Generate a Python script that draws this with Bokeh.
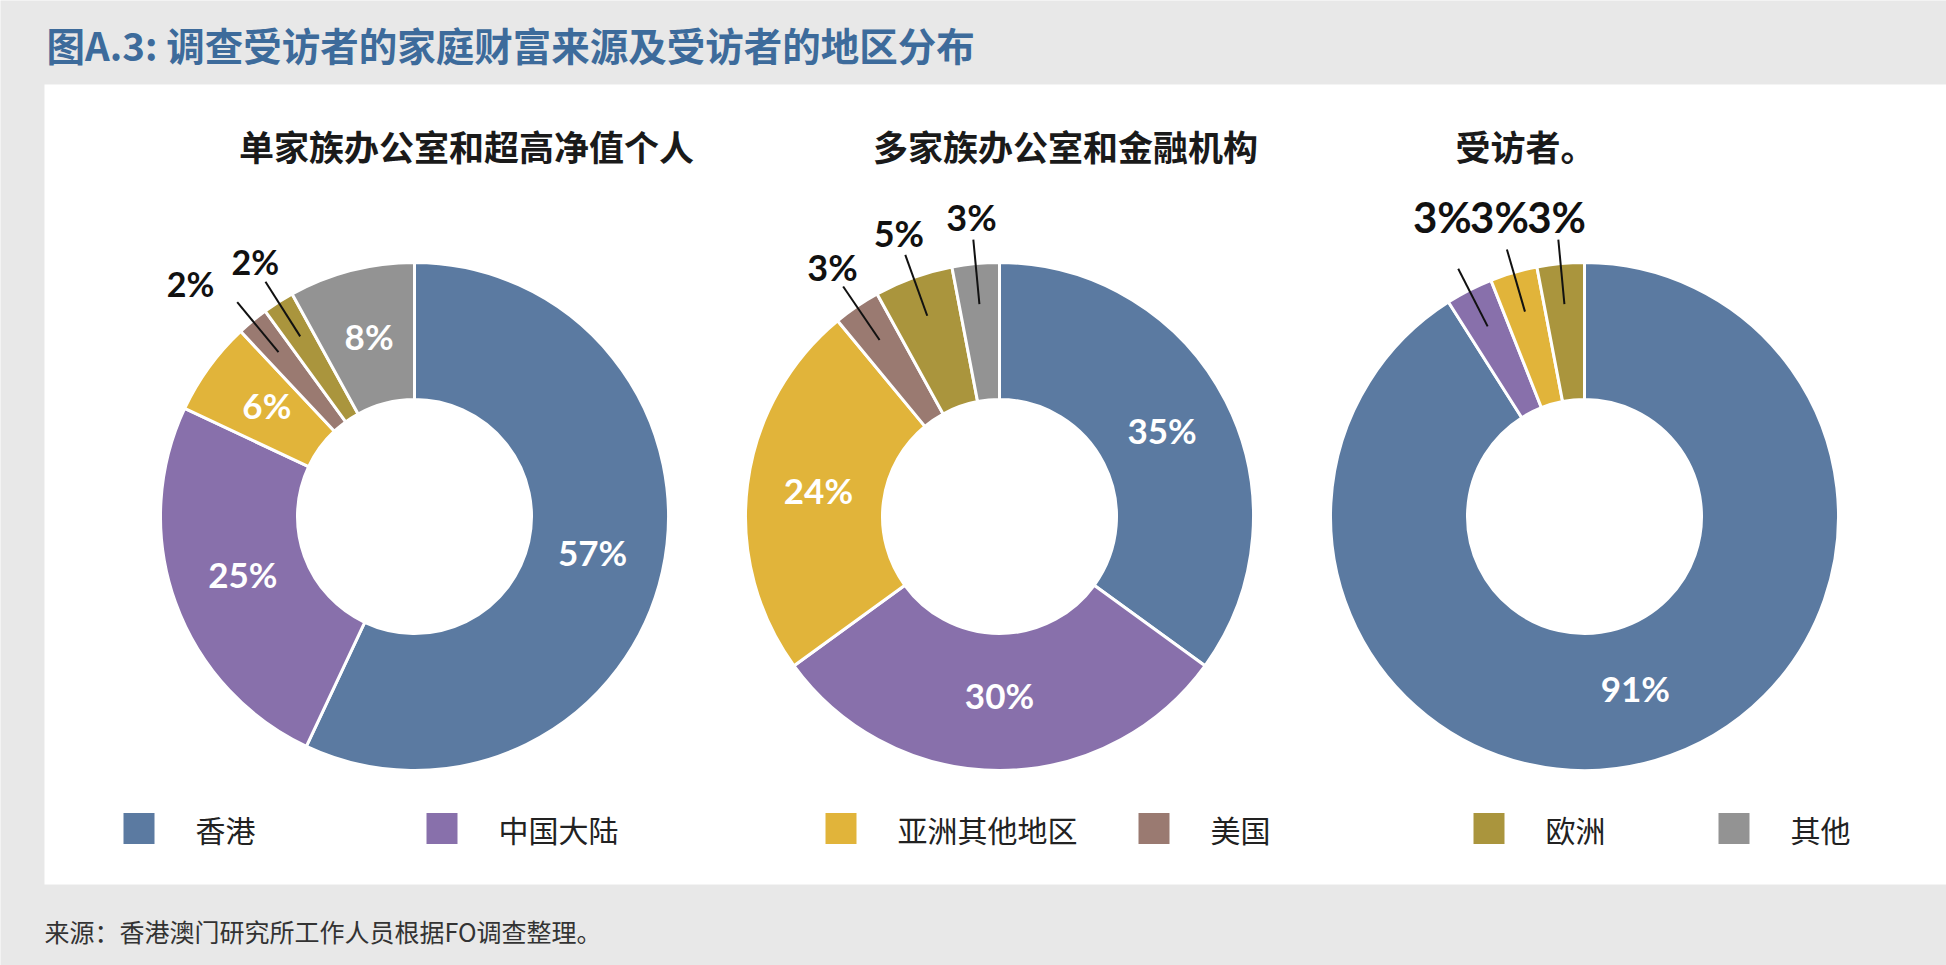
import math

from bokeh.plotting import figure
from bokeh.models import Range1d
from bokeh.core.properties import value
from bokeh.embed import file_html
from bokeh.resources import INLINE

# ---- data ---------------------------------------------------------------
categories = ["香港", "中国大陆", "亚洲其他地区", "美国", "欧洲", "其他"]
colors = ["#5b7aa1", "#8870ab", "#e1b43a", "#9a7a71", "#aa953d", "#939393"]

single_family_ultra_hnw = [57, 25, 6, 2, 2, 8]
multi_family_financial = [35, 30, 24, 3, 5, 3]
respondents_region = [91, 3, 3, 0, 3, 0]

panel_titles = ["单家族办公室和超高净值个人", "多家族办公室和金融机构", "受访者。"]
main_title = "图A.3: 调查受访者的家庭财富来源及受访者的地区分布"
source_note = "来源：香港澳门研究所工作人员根据FO调查整理。"

# ---- layout (pixels, measured from the top-left corner) -----------------
W, H = 1946, 965
CJK = "Noto Sans CJK SC"
NUM = "Lato"


def Y(top):
    return H - top


donuts = [
    dict(values=single_family_ultra_hnw, cx=414, cy=516, title_x=466, label_fs=34, row=False),
    dict(values=multi_family_financial, cx=999, cy=516, title_x=1065, label_fs=36, row=False),
    dict(values=respondents_region, cx=1584, cy=516, title_x=1525, label_fs=42, row=True),
]
R_OUT, R_IN = 254, 117
INSIDE_MIN = 6
TEXT_LIFT = 4  # optical centring of digits against "middle" baseline

legend_x = [123, 426, 825, 1138, 1473, 1718]
legend_y = 828
SQ = 31

p = figure(width=W, height=H, x_range=Range1d(0, W), y_range=Range1d(0, H),
           output_backend="svg", toolbar_location=None, min_border=0)
p.axis.visible = False
p.grid.visible = False
p.outline_line_color = None
p.background_fill_color = "#e8e8e8"
p.border_fill_color = "#e8e8e8"

# white panel behind the charts and legend
p.quad(left=44, right=W, top=Y(84), bottom=Y(884), fill_color="white", line_color=None)

# main title
p.text(x=[46], y=[Y(43)], text=[main_title], text_align="left", text_baseline="middle",
       text_font=value(CJK), text_font_style="bold", text_font_size="38.5px",
       text_color="#3d6b9b")

for i, d in enumerate(donuts):
    vals = d["values"]
    cx, cy = d["cx"], Y(d["cy"])
    total = float(sum(vals))

    # panel subtitle
    p.text(x=[d["title_x"]], y=[Y(145)], text=[panel_titles[i]],
           text_align="center", text_baseline="middle", text_font=value(CJK),
           text_font_style="bold", text_font_size="35px", text_color="#1a1a1a")

    starts, ends, cols, mids, shown = [], [], [], [], []
    cum = 0.0
    for v, c in zip(vals, colors):
        if v <= 0:
            continue
        a0 = math.pi / 2 - 2 * math.pi * cum / total
        a1 = math.pi / 2 - 2 * math.pi * (cum + v) / total
        starts.append(a0)
        ends.append(a1)
        cols.append(c)
        mids.append((a0 + a1) / 2)
        shown.append(v)
        cum += v

    p.annular_wedge(x=cx, y=cy, inner_radius=R_IN, outer_radius=R_OUT,
                    start_angle=starts, end_angle=ends, direction="clock",
                    fill_color=cols, line_color="white", line_width=3)

    # labels inside the ring
    in_x, in_y, in_t = [], [], []
    r_mid = (R_OUT + R_IN) / 2 - 3
    for v, m in zip(shown, mids):
        if v >= INSIDE_MIN:
            in_x.append(cx + r_mid * math.cos(m))
            in_y.append(cy + r_mid * math.sin(m) + TEXT_LIFT)
            in_t.append(f"{v}%")
    p.text(x=in_x, y=in_y, text=in_t, text_align="center", text_baseline="middle",
           text_font=value(NUM), text_font_style="bold", text_font_size="35px",
           text_color="white")

    # small slices: label outside with a leader line; crowded labels are
    # pushed left (and, in row mode, lined up on one baseline)
    fs = d["label_fs"]
    lw = (1.36 if d["row"] else 1.9) * fs
    lh = 0.9 * fs
    outs = [(v, m) for v, m in zip(shown, mids) if v < INSIDE_MIN]
    placed = []
    for v, m in reversed(outs):
        lx = cx + 1.17 * R_OUT * math.cos(m)
        ly = cy + 1.17 * R_OUT * math.sin(m)
        if placed:
            px, py = placed[-1][0], placed[-1][1]
            if abs(ly - py) < lh and lx > px - lw:
                lx = px - lw
                if d["row"]:
                    ly = py
        placed.append((lx, ly, f"{v}%", m))
    if placed:
        p.segment(x0=[cx + 0.84 * R_OUT * math.cos(q[3]) for q in placed],
                  y0=[cy + 0.84 * R_OUT * math.sin(q[3]) for q in placed],
                  x1=[cx + 1.095 * R_OUT * math.cos(q[3]) for q in placed],
                  y1=[cy + 1.095 * R_OUT * math.sin(q[3]) for q in placed],
                  line_color="#111111", line_width=2)
        p.text(x=[q[0] for q in placed], y=[q[1] + TEXT_LIFT for q in placed],
               text=[q[2] for q in placed], text_align="center", text_baseline="middle",
               text_font=value(NUM), text_font_style="bold",
               text_font_size=f"{fs}px", text_color="#111111")

# legend
p.quad(left=legend_x, right=[x + SQ for x in legend_x],
       top=[Y(legend_y - SQ / 2)] * len(legend_x), bottom=[Y(legend_y + SQ / 2)] * len(legend_x),
       fill_color=colors, line_color=None)
p.text(x=[x + 72 for x in legend_x], y=[Y(legend_y)] * len(legend_x), text=categories,
       text_align="left", text_baseline="middle", text_font=value(CJK),
       text_font_size="30px", text_color="#222222")

# source note
p.text(x=[44], y=[Y(930)], text=[source_note], text_align="left", text_baseline="middle",
       text_font=value(CJK), text_font_size="25px", text_color="#333333")

open("out.html", "w").write(file_html(p, INLINE))
